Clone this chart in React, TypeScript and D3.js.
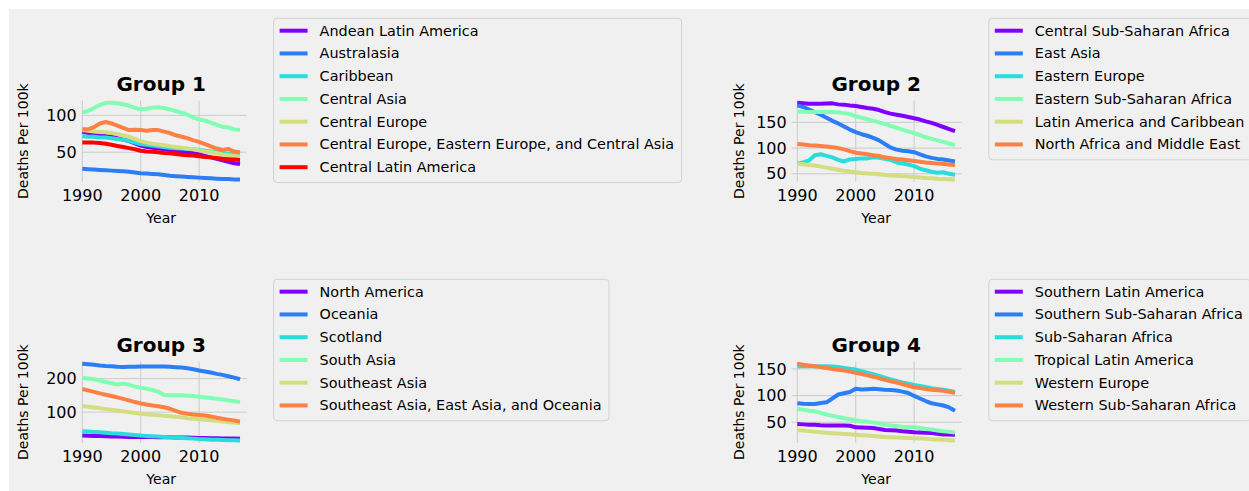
import React, { useEffect, useRef } from 'react';
import * as d3 from 'd3';

const YEARS = [1990, 1991, 1992, 1993, 1994, 1995, 1996, 1997, 1998, 1999, 2000, 2001, 2002, 2003, 2004, 2005, 2006, 2007, 2008, 2009, 2010, 2011, 2012, 2013, 2014, 2015, 2016, 2017];

const X_TICKS = [1990, 2000, 2010];
const TITLES = ['Group 1', 'Group 2', 'Group 3', 'Group 4'];
const Y_LABEL = 'Deaths Per 100k';
const X_LABEL = 'Year';

const COLORS = ['#8000ff', '#2c7ef7', '#2adddd', '#80feb4', '#d4dd80', '#ff8042', '#ff0000'];

// Group 1
const G1_NAMES = ['Andean Latin America', 'Australasia', 'Caribbean', 'Central Asia', 'Central Europe', 'Central Europe, Eastern Europe, and Central Asia', 'Central Latin America'];
const G1_ANDEAN = [78, 76, 75, 74, 72, 71, 69, 67, 65, 62, 59, 57, 56, 55, 54, 53, 52, 51, 50, 49, 47, 45, 43, 41, 39, 37, 35, 34];
const G1_AUSTRALASIA = [27.5, 27, 26.5, 26, 25.5, 25, 24.5, 24, 23.5, 22.5, 21.5, 21, 20.5, 20, 19, 18, 17.5, 17, 16.5, 16, 15.5, 15, 14.5, 14, 13.5, 13.5, 13, 13];
const G1_CARIBBEAN = [72, 71, 71, 70, 70, 69, 68, 67, 65, 63, 61, 60, 59, 58, 57, 56, 55.5, 55, 54.5, 54, 53, 52, 51, 50, 49, 48, 47.5, 47];
const G1_CENTRAL_ASIA = [104, 106, 110, 114, 117, 117, 116.5, 115, 113, 110, 108.5, 109, 110.5, 111, 110, 108, 106, 103.5, 101, 97, 94.5, 93, 90, 87.5, 84.5, 83.5, 81, 80];
const G1_CENTRAL_EUROPE = [80, 79, 78, 77.5, 77, 76, 74.5, 73, 71, 68, 65, 63, 61.5, 60.5, 59.5, 58, 57, 56, 55, 54, 52.5, 51, 50, 48.5, 47, 46, 45, 44];
const G1_CEE_CA = [81, 81, 84, 89, 91, 89, 86, 83, 80, 80.5, 80, 79, 80, 80, 78, 76, 73, 71, 69, 66, 64, 61, 58, 55, 53, 54.5, 51, 50];
const G1_CENTRAL_LATAM = [63, 63, 63, 62.5, 61.5, 60, 58.5, 57, 55.5, 54, 52, 51, 50.5, 50, 49, 48.5, 47.5, 46.5, 46, 45.5, 44.5, 43.5, 43, 42, 41, 40.5, 40, 39.5];
const G1_Y_TICKS = [50, 100];

// Group 2
const G2_NAMES = ['Central Sub-Saharan Africa', 'East Asia', 'Eastern Europe', 'Eastern Sub-Saharan Africa', 'Latin America and Caribbean', 'North Africa and Middle East'];
const G2_CENTRAL_SSA = [188, 187, 186, 186, 186, 186.5, 187, 185, 184.5, 183, 182, 180, 178, 176.5, 174, 170, 167, 165, 163, 160.5, 158, 155.5, 152, 149, 145, 141, 137, 133];
const G2_EAST_ASIA = [183, 180, 175, 170, 165, 159, 153, 148, 142, 136, 131, 127, 124, 120, 115, 108, 101, 97, 95, 94, 92, 88, 84, 81, 79, 78, 76, 74];
const G2_EASTERN_EUROPE = [70, 72, 76, 86, 88, 85, 82, 77, 74, 78, 79, 80, 80, 82, 81, 79, 77, 72, 70, 68, 65, 60, 57, 54, 52, 53, 50, 48];
const G2_EASTERN_SSA = [171, 170.5, 170, 170, 170, 170, 170, 169.5, 168, 166, 162, 159, 156, 153, 150, 146.5, 143, 139.5, 136, 132.5, 129, 125, 121, 118, 115, 112, 109, 106];
const G2_LATAM_CARIB = [70, 68.5, 67, 66, 64, 62, 60, 58, 56, 54.5, 53, 51.5, 50.5, 50, 49, 47.5, 46.5, 46, 45.5, 45, 44, 43, 42, 41.5, 40.5, 40, 39.5, 39];
const G2_NAME = [108, 107, 105.5, 105, 104, 103, 101.5, 100, 97.5, 94, 91, 89.5, 88, 86, 84.5, 82, 80.5, 79, 78, 76.5, 75, 73.5, 72, 71, 70, 69, 68, 67];
const G2_Y_TICKS = [50, 100, 150];

// Group 3
const G3_NAMES = ['North America', 'Oceania', 'Scotland', 'South Asia', 'Southeast Asia', 'Southeast Asia, East Asia, and Oceania'];
const G3_NORTH_AMERICA = [30, 29.5, 29, 28.5, 28, 27.5, 27, 26.5, 26, 26, 26, 25.5, 25.5, 25, 25, 25, 24.5, 24, 24, 23.5, 23, 22.5, 22, 22, 21.5, 21, 21, 20.5];
const G3_OCEANIA = [244, 243, 241, 239, 237.5, 236.5, 235, 234.5, 235, 235.5, 236, 236, 236, 236, 236, 235, 234, 233, 231, 228, 224, 221, 218, 214, 211, 207, 203, 198];
const G3_SCOTLAND = [43, 42, 41, 40, 38.5, 37, 36, 34.5, 33, 31.5, 30, 29, 28, 27, 26, 25, 24, 23, 22, 21, 19.5, 19, 18, 17.5, 17, 16.5, 16, 15.5];
const G3_SOUTH_ASIA = [202, 200, 198, 194, 190, 186, 182.5, 185, 182, 176, 173, 170, 166, 161, 151, 150, 150, 150, 149, 148, 146, 144, 142, 140, 138, 135, 132.5, 130];
const G3_SOUTHEAST_ASIA = [118, 116, 114, 112, 109, 107, 105, 102.5, 100, 97.5, 95, 94, 92.5, 91, 89.5, 88, 86, 84.5, 82, 80.5, 79, 77, 75.5, 74, 72, 70.5, 69, 67];
const G3_SEA_EA_OC = [169, 165, 160.5, 156, 152, 148, 144, 139.5, 135, 130, 126, 123, 120, 117.5, 114.5, 110, 104, 98, 95, 93, 91.5, 90, 87, 83.5, 80.5, 77.7, 75, 72];
const G3_Y_TICKS = [100, 200];

// Group 4
const G4_NAMES = ['Southern Latin America', 'Southern Sub-Saharan Africa', 'Sub-Saharan Africa', 'Tropical Latin America', 'Western Europe', 'Western Sub-Saharan Africa'];
const G4_SOUTHERN_LATAM = [46.5, 46, 45.5, 45.3, 44.5, 44, 44, 44, 44, 43.5, 40.4, 40, 39.5, 39.2, 37.5, 35.6, 35, 34.3, 33, 32.3, 31.4, 30.8, 30.2, 29.6, 28.4, 27.2, 27, 26.6];
const G4_SOUTHERN_SSA = [85.6, 84.5, 84.4, 84.4, 86, 87.4, 94.6, 102, 104.5, 106.7, 112.7, 111.5, 112, 112.7, 112, 111, 110.5, 109.6, 107.5, 105, 99.4, 94.6, 89.8, 85.6, 83.5, 81.4, 77.8, 71.7];
const G4_SSA = [155, 155, 155, 155, 155, 155, 154.5, 153.6, 152, 150.5, 148.8, 146, 143, 140, 137, 133.7, 130.5, 127.7, 124.7, 122.5, 120, 118, 116, 114, 112.5, 111, 109, 106.6];
const G4_TROPICAL_LATAM = [75.4, 73.5, 71.7, 70.5, 67.5, 64.5, 62, 59.7, 57.5, 55.5, 53.7, 52, 50.8, 49.5, 47.5, 45.3, 44, 42.8, 41.6, 41, 40.4, 39, 37.5, 36.2, 34.7, 33.2, 32, 30.8];
const G4_WESTERN_EUROPE = [35.6, 34.5, 33.5, 32.3, 31.2, 30.2, 29.5, 28.7, 28, 27.3, 26.6, 25.8, 25, 24.1, 23.2, 22.4, 21.9, 21.5, 21, 20.5, 20, 19.4, 18.8, 18.2, 17.6, 17, 16.4, 15.8];
const G4_WESTERN_SSA = [159.6, 158, 156.5, 155, 153.5, 151.8, 150, 148.5, 147, 145, 143, 140.5, 138, 135.5, 132.5, 129.5, 127, 124.5, 121.7, 118.5, 115.7, 114, 112.5, 111, 110, 109, 107, 105];
const G4_Y_TICKS = [50, 100, 150];

const GROUPS = [
  { title: TITLES[0], names: G1_NAMES, series: [G1_ANDEAN, G1_AUSTRALASIA, G1_CARIBBEAN, G1_CENTRAL_ASIA, G1_CENTRAL_EUROPE, G1_CEE_CA, G1_CENTRAL_LATAM], yTicks: G1_Y_TICKS, col: 0, row: 0 },
  { title: TITLES[1], names: G2_NAMES, series: [G2_CENTRAL_SSA, G2_EAST_ASIA, G2_EASTERN_EUROPE, G2_EASTERN_SSA, G2_LATAM_CARIB, G2_NAME], yTicks: G2_Y_TICKS, col: 1, row: 0 },
  { title: TITLES[2], names: G3_NAMES, series: [G3_NORTH_AMERICA, G3_OCEANIA, G3_SCOTLAND, G3_SOUTH_ASIA, G3_SOUTHEAST_ASIA, G3_SEA_EA_OC], yTicks: G3_Y_TICKS, col: 0, row: 1 },
  { title: TITLES[3], names: G4_NAMES, series: [G4_SOUTHERN_LATAM, G4_SOUTHERN_SSA, G4_SSA, G4_TROPICAL_LATAM, G4_WESTERN_EUROPE, G4_WESTERN_SSA], yTicks: G4_Y_TICKS, col: 1, row: 1 },
];

// layout (page coordinates)
const COLS = [
  { L: 80.2, R: 248.2, xDomain: [1989.64, 2018.4], yLabelX: 23.3 },
  { L: 790.2, R: 963.4, xDomain: [1988.78, 2018.44], yLabelX: 739.3 },
];
const ROWS = [
  { T: 99, B: 183.3 },
  { T: 360, B: 444.3 },
];
const TITLE_SPAN = [1988.65, 2018.35];

const FONT = '"DejaVu Sans", sans-serif';
const BG = '#f0f0f0';
const GRID = '#cbcbcb';

export default function App() {
  const ref = useRef<SVGSVGElement | null>(null);

  useEffect(() => {
    document.body.style.overflow = 'hidden';
    const svg = d3.select(ref.current);
    svg.selectAll('*').remove();

    svg.append('rect').attr('x', 9).attr('y', 9).attr('width', 1249).attr('height', 491).attr('fill', BG);

    GROUPS.forEach((g) => {
      const c = COLS[g.col];
      const r = ROWS[g.row];
      const x = d3.scaleLinear().domain(c.xDomain).range([c.L, c.R]);
      const all = g.series.flat();
      const mn = d3.min(all) as number;
      const mx = d3.max(all) as number;
      const pad = (mx - mn) * 0.05;
      const y = d3.scaleLinear().domain([mn - pad, mx + pad]).range([r.B, r.T]);

      const gp = svg.append('g');
      gp.selectAll('line.vg').data(X_TICKS).enter().append('line')
        .attr('x1', (d) => x(d)).attr('x2', (d) => x(d))
        .attr('y1', r.T + 1.5).attr('y2', r.B - 1.5)
        .attr('stroke', GRID).attr('stroke-width', 1);
      gp.selectAll('line.hg').data(g.yTicks).enter().append('line')
        .attr('x1', c.L + 1.5).attr('x2', c.R - 1.5)
        .attr('y1', (d) => y(d)).attr('y2', (d) => y(d))
        .attr('stroke', GRID).attr('stroke-width', 1);

      const line = d3.line<number>().x((_, i) => x(YEARS[i])).y((d) => y(d));
      g.series.forEach((s, i) => {
        gp.append('path').attr('d', line(s) as string)
          .attr('fill', 'none').attr('stroke', COLORS[i]).attr('stroke-width', 4)
          .attr('stroke-linecap', 'butt').attr('stroke-linejoin', 'round');
      });

      gp.selectAll('text.xt').data(X_TICKS).enter().append('text')
        .attr('x', (d) => x(d)).attr('y', r.B + 18)
        .attr('text-anchor', 'middle').attr('font-family', FONT).attr('font-size', 16).attr('fill', '#000')
        .text((d) => String(d));
      gp.selectAll('text.yt').data(g.yTicks).enter().append('text')
        .attr('x', c.L - 3.5).attr('y', (d) => y(d)).attr('dy', '0.35em')
        .attr('text-anchor', 'end').attr('font-family', FONT).attr('font-size', 16).attr('fill', '#000')
        .text((d) => String(d));

      const midX = (x(TITLE_SPAN[0]) + x(TITLE_SPAN[1])) / 2;
      gp.append('text').attr('x', midX).attr('y', r.B + 40)
        .attr('text-anchor', 'middle').attr('font-family', FONT).attr('font-size', 14).attr('fill', '#000')
        .text(X_LABEL);
      gp.append('text')
        .attr('transform', `translate(${c.yLabelX},${(r.T + r.B) / 2}) rotate(-90)`)
        .attr('dy', '0.35em')
        .attr('text-anchor', 'middle').attr('font-family', FONT).attr('font-size', 14).attr('fill', '#000')
        .text(Y_LABEL);

      gp.append('text').attr('x', midX).attr('y', r.T - 8)
        .attr('text-anchor', 'middle').attr('font-family', FONT).attr('font-size', 20).attr('font-weight', 'bold').attr('fill', '#000')
        .text(g.title);

      const lx = c.R + 25.4;
      const ly = r.T - 80.7;
      const lg = gp.append('g');
      const box = lg.append('rect');
      let maxW = 0;
      g.names.forEach((n, i) => {
        const cy = ly + 12.4 + i * 22.75;
        lg.append('line').attr('x1', lx + 6).attr('x2', lx + 34).attr('y1', cy).attr('y2', cy)
          .attr('stroke', COLORS[i]).attr('stroke-width', 4);
        const t = lg.append('text').attr('x', lx + 46).attr('y', cy).attr('dy', '0.35em')
          .attr('font-family', FONT).attr('font-size', 14.4).attr('fill', '#000').text(n);
        const w = (t.node() as SVGTextElement).getComputedTextLength();
        if (w > maxW) maxW = w;
      });
      const bh = 12.4 + (g.names.length - 1) * 22.75 + 15.3;
      box.attr('x', lx).attr('y', ly).attr('width', 46 + maxW + 7.4).attr('height', bh)
        .attr('rx', 3.5).attr('fill', BG).attr('stroke', '#d3d3d3').attr('stroke-width', 1);
    });
  }, []);

  return (
    <svg ref={ref} width={1249} height={491} style={{ position: 'absolute', left: 0, top: 0 }} />
  );
}
